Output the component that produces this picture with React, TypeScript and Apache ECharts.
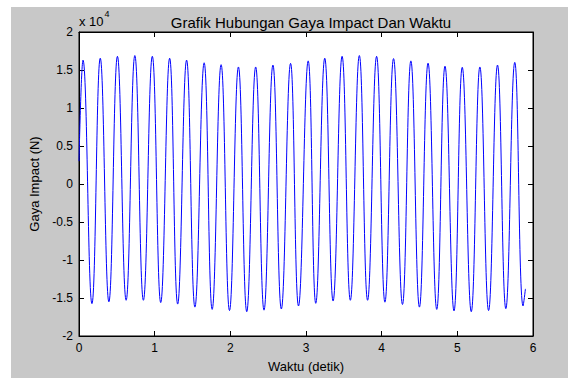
import React, { useEffect, useRef } from "react";
import * as echarts from "echarts";

// Time (s) of each positive peak and its force (N)
const peakTimes = [0.053, 0.281, 0.508, 0.738, 0.969, 1.198, 1.422, 1.654, 1.878, 2.107, 2.335, 2.563, 2.796, 3.029, 3.248, 3.477, 3.705, 3.933, 4.157, 4.386, 4.613, 4.837, 5.065, 5.298, 5.531, 5.759];
const peakValues = [16300, 16550, 16800, 16900, 16800, 16550, 16300, 15950, 15700, 15400, 15400, 15650, 15870, 16200, 16550, 16800, 16900, 16800, 16500, 16200, 15900, 15500, 15350, 15400, 15650, 16000];
// Time (s) of each negative trough and its force (N)
const troughTimes = [0.171, 0.395, 0.623, 0.851, 1.080, 1.304, 1.532, 1.760, 1.989, 2.217, 2.445, 2.674, 2.901, 3.129, 3.358, 3.586, 3.814, 4.043, 4.275, 4.499, 4.728, 4.956, 5.184, 5.413, 5.641, 5.869];
const troughValues = [-15740, -15500, -15300, -15300, -15600, -15800, -16200, -16500, -16650, -16800, -16600, -16450, -16050, -15700, -15400, -15300, -15300, -15550, -15850, -16200, -16500, -16700, -16800, -16650, -16400, -16050];
// first and last samples
const startPoint: [number, number] = [0, 3000];
const endPoint: [number, number] = [5.9, -13800];

const xTicks = [0, 1, 2, 3, 4, 5, 6];
const yTickLabels = ["-2", "-1.5", "-1", "-0.5", "0", "0.5", "1", "1.5", "2"];

const FONT = "Liberation Sans, Arial, sans-serif";

export default function App() {
  const ref = useRef<HTMLDivElement>(null);
  useEffect(() => {
    if (!ref.current) return;
    const chart = echarts.init(ref.current, undefined, { renderer: "svg" });
    const data: [number, number][] = [startPoint];
    for (let i = 0; i < peakTimes.length; i++) {
      data.push([peakTimes[i], peakValues[i]]);
      if (i < troughTimes.length) data.push([troughTimes[i], troughValues[i]]);
    }
    data.push(endPoint);

    const tickStyle = { show: true, inside: true, length: 5, lineStyle: { color: "#000", width: 1 } };
    const lineAxis = { show: true, onZero: false, lineStyle: { color: "#000", width: 1 } };
    chart.setOption({
      animation: false,
      textStyle: { fontFamily: FONT },
      grid: {
        left: 79,
        right: 35,
        top: 32,
        bottom: 36,
        show: true,
        backgroundColor: "#ffffff",
        borderColor: "#000",
        borderWidth: 1,
      },
      title: {
        text: "Grafik Hubungan Gaya Impact Dan Waktu",
        left: 306,
        top: 10,
        textAlign: "center",
        textStyle: { fontSize: 15, fontWeight: "normal", color: "#000", fontFamily: FONT },
      },
      graphic: [
        {
          type: "text",
          left: 79,
          top: 9,
          style: {
            text: "{a|x 10}{b|4}",
            rich: {
              a: { fontSize: 13, fontFamily: FONT, fill: "#000", verticalAlign: "bottom", padding: [6, 0, 0, 0] },
              b: { fontSize: 9, fontFamily: FONT, fill: "#000", verticalAlign: "top", padding: [0, 0, 8, 1] },
            },
          },
        },
      ],
      xAxis: [
        {
          type: "value",
          min: 0,
          max: 6,
          interval: 1,
          position: "bottom",
          name: "Waktu (detik)",
          nameLocation: "middle",
          nameGap: 24,
          nameTextStyle: { fontSize: 13, color: "#000", fontFamily: FONT },
          axisLine: lineAxis,
          axisTick: tickStyle,
          splitLine: { show: false },
          axisLabel: {
            fontSize: 12,
            color: "#000",
            margin: 6,
            fontFamily: FONT,
            formatter: (v: number) => (xTicks.includes(v) ? String(v) : ""),
          },
        },
        {
          type: "value",
          min: 0,
          max: 6,
          interval: 1,
          position: "top",
          axisLine: lineAxis,
          axisTick: tickStyle,
          splitLine: { show: false },
          axisLabel: { show: false },
        },
      ],
      yAxis: [
        {
          type: "value",
          min: -20000,
          max: 20000,
          interval: 5000,
          position: "left",
          name: "Gaya Impact (N)",
          nameLocation: "middle",
          nameGap: 35,
          nameTextStyle: { fontSize: 13, color: "#000", fontFamily: FONT },
          axisLine: lineAxis,
          axisTick: tickStyle,
          splitLine: { show: false },
          axisLabel: {
            fontSize: 12,
            color: "#000",
            margin: 6,
            fontFamily: FONT,
            formatter: (v: number) => yTickLabels[Math.round((v + 20000) / 5000)] ?? "",
          },
        },
        {
          type: "value",
          min: -20000,
          max: 20000,
          interval: 5000,
          position: "right",
          axisLine: lineAxis,
          axisTick: tickStyle,
          splitLine: { show: false },
          axisLabel: { show: false },
        },
      ],
      series: [
        {
          type: "line",
          data,
          xAxisIndex: 0,
          yAxisIndex: 0,
          showSymbol: false,
          smooth: 0.45,
          clip: true,
          lineStyle: { color: "#0000ff", width: 1 },
        },
      ],
    });
    return () => chart.dispose();
  }, []);

  return (
    <div style={{ position: "absolute", left: 0, top: 0, width: 568, height: 378, background: "#ffffff" }}>
      <div style={{ position: "absolute", left: 11, top: 7, width: 557, height: 371, background: "#c8c8c8" }} />
      <div ref={ref} style={{ position: "absolute", left: 0, top: 0, width: 568, height: 378 }} />
    </div>
  );
}
